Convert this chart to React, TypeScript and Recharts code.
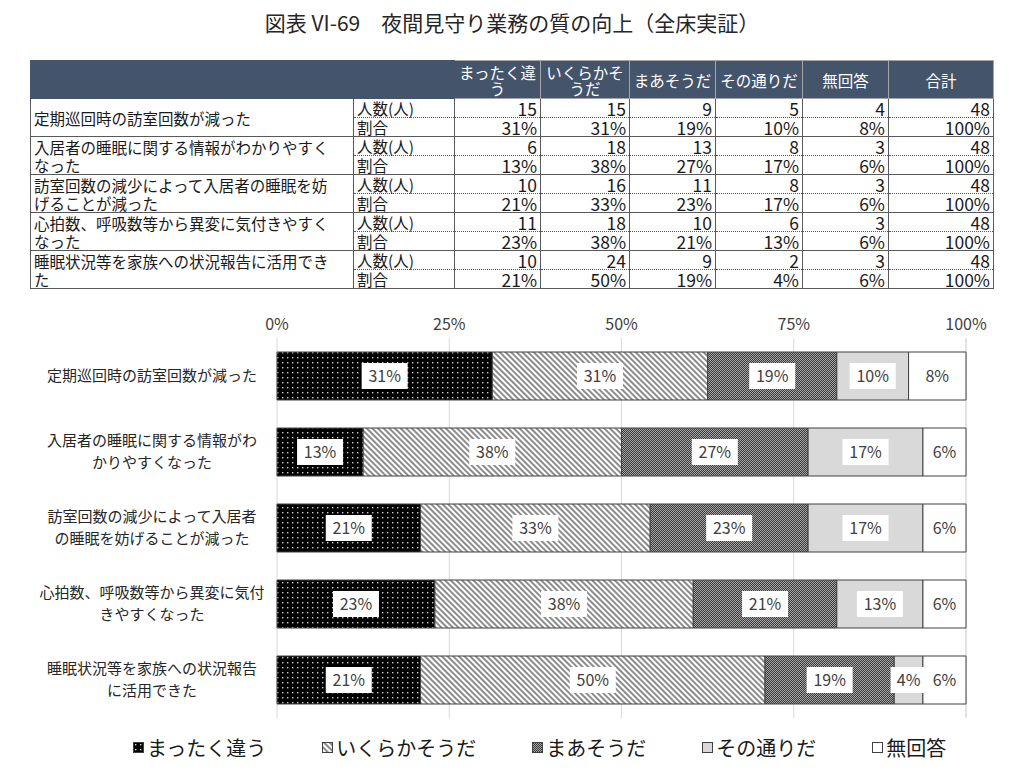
import React from 'react';
import { BarChart, Bar, XAxis, YAxis, CartesianGrid, LabelList } from 'recharts';

const FONT = '"Noto Sans CJK JP", "Noto Sans", sans-serif';

const title = '図表 VI-69　夜間見守り業務の質の向上（全床実証）';

const categories = [
  '定期巡回時の訪室回数が減った',
  '入居者の睡眠に関する情報がわかりやすくなった',
  '訪室回数の減少によって入居者の睡眠を妨げることが減った',
  '心拍数、呼吸数等から異変に気付きやすくなった',
  '睡眠状況等を家族への状況報告に活用できた',
];

// y軸ラベルの改行位置
const chartLabelLines = [
  ['定期巡回時の訪室回数が減った'],
  ['入居者の睡眠に関する情報がわ', 'かりやすくなった'],
  ['訪室回数の減少によって入居者', 'の睡眠を妨げることが減った'],
  ['心拍数、呼吸数等から異変に気付', 'きやすくなった'],
  ['睡眠状況等を家族への状況報告', 'に活用できた'],
];

const seriesNames = ['まったく違う', 'いくらかそうだ', 'まあそうだ', 'その通りだ', '無回答'];
const headerNames = ['まったく違う', 'いくらかそうだ', 'まあそうだ', 'その通りだ', '無回答', '合計'];

// 人数(人)
const countsZenzen = [15, 6, 10, 11, 10];
const countsIkuraka = [15, 18, 16, 18, 24];
const countsMaa = [9, 13, 11, 10, 9];
const countsSono = [5, 8, 8, 6, 2];
const countsMukaito = [4, 3, 3, 3, 3];
const totals = [48, 48, 48, 48, 48];

const seriesCounts = [countsZenzen, countsIkuraka, countsMaa, countsSono, countsMukaito];
const xTicks = [0, 25, 50, 75, 100];
const fills = ['url(#pDots)', 'url(#pHatch)', 'url(#pCheck)', '#d9d9d9', '#ffffff'];

const pctText = (c: number, t: number) => `${Math.round((c / t) * 100)}%`;

const chartData = categories.map((name, r) => {
  const row: any = { name };
  seriesCounts.forEach((arr, i) => {
    row[`s${i}`] = (arr[r] / totals[r]) * 100;
    row[`l${i}`] = pctText(arr[r], totals[r]);
  });
  return row;
});

const Patterns = () => (
  <svg width={0} height={0} style={{ position: 'absolute' }}>
    <defs>
      <pattern id="pDots" width={5} height={5} patternUnits="userSpaceOnUse">
        <rect width={5} height={5} fill="#000" />
        <rect x={2} y={2} width={1.4} height={1.4} fill="#cfcfcf" />
      </pattern>
      <pattern id="pHatch" width={4} height={4} patternUnits="userSpaceOnUse" patternTransform="rotate(-45)">
        <rect width={4} height={4} fill="#ffffff" />
        <rect width={2} height={4} fill="#8c8c8c" />
      </pattern>
      <pattern id="pCheck" width={2} height={2} patternUnits="userSpaceOnUse">
        <rect width={2} height={2} fill="#a6a6a6" />
        <rect x={0} y={0} width={1} height={1} fill="#3a3a3a" />
        <rect x={1} y={1} width={1} height={1} fill="#3a3a3a" />
      </pattern>
    </defs>
  </svg>
);

const CategoryTick = (props: any) => {
  const { y, payload } = props;
  const idx = categories.indexOf(payload.value);
  const lines = chartLabelLines[idx] || [payload.value];
  const offset = lines.length === 1 ? [5] : [-6, 16];
  return (
    <g>
      {lines.map((ln, k) => (
        <text key={k} x={152} y={y + offset[k]} textAnchor="middle" fontSize={15} fill="#262626" fontFamily={FONT}>
          {ln}
        </text>
      ))}
    </g>
  );
};

const makeLabel = (boxed: boolean) => (props: any) => {
  const { x, y, width, height, value } = props;
  const cx = x + width / 2;
  const cy = y + height / 2;
  const w = String(value).length * 10 + 16;
  return (
    <g>
      {boxed && <rect x={cx - w / 2} y={cy - 13} width={w} height={26} fill="#ffffff" />}
      <text x={cx} y={cy + 6} textAnchor="middle" fontSize={16} fill="#404040" fontFamily={FONT}>
        {value}
      </text>
    </g>
  );
};

const cellBorder = '1px solid #595959';
const dotBorder = '1px dotted #595959';

const DataTable = () => (
  <table
    style={{
      position: 'absolute', left: 30, top: 60, width: 963, borderCollapse: 'collapse',
      tableLayout: 'fixed', fontFamily: FONT, color: '#1a1a1a',
    }}
  >
    <colgroup>
      <col style={{ width: 323 }} />
      <col style={{ width: 101 }} />
      <col style={{ width: 86 }} />
      <col style={{ width: 89 }} />
      <col style={{ width: 86 }} />
      <col style={{ width: 87 }} />
      <col style={{ width: 86 }} />
      <col style={{ width: 105 }} />
    </colgroup>
    <thead>
      <tr style={{ height: 38, background: '#44546a', color: '#fff' }}>
        <th colSpan={2} style={{ border: '1px solid #44546a' }} />
        {headerNames.map((h) => (
          <th
            key={h}
            style={{
              border: '1px solid #a6a6a6', fontWeight: 'normal', fontSize: 15.5, lineHeight: '16px',
              padding: '0 2px', textAlign: 'center',
            }}
          >
            {h}
          </th>
        ))}
      </tr>
    </thead>
    <tbody>
      {categories.map((cat, r) => {
        const cnts = seriesCounts.map((a) => a[r]);
        return (
          <React.Fragment key={cat}>
            <tr style={{ height: 19 }}>
              <td rowSpan={2} style={{ border: cellBorder, padding: '0 3px', fontSize: 15.5, lineHeight: '18px', verticalAlign: 'middle' }}>
                <div style={{ width: 300 }}>{cat}</div>
              </td>
              <td style={{ borderLeft: cellBorder, borderRight: cellBorder, borderBottom: dotBorder, borderTop: cellBorder, fontSize: 15.5, lineHeight: '17px', padding: '0 3px' }}>
                人数(人)
              </td>
              {[...cnts, totals[r]].map((v, i) => (
                <td key={i} style={{ borderLeft: cellBorder, borderRight: cellBorder, borderBottom: dotBorder, borderTop: cellBorder, fontSize: 17.5, lineHeight: '17px', textAlign: 'right', padding: '0 3px' }}>
                  {v}
                </td>
              ))}
            </tr>
            <tr style={{ height: 19 }}>
              <td style={{ borderLeft: cellBorder, borderRight: cellBorder, borderBottom: cellBorder, fontSize: 15.5, lineHeight: '17px', padding: '0 3px' }}>
                割合
              </td>
              {[...cnts.map((c) => pctText(c, totals[r])), '100%'].map((v, i) => (
                <td key={i} style={{ borderLeft: cellBorder, borderRight: cellBorder, borderBottom: cellBorder, fontSize: 17.5, lineHeight: '17px', textAlign: 'right', padding: '0 3px' }}>
                  {v}
                </td>
              ))}
            </tr>
          </React.Fragment>
        );
      })}
    </tbody>
  </table>
);

const LegendBox = () => (
  <div
    style={{
      position: 'absolute', left: 133, top: 733, display: 'flex', gap: 56,
      fontFamily: FONT, fontSize: 20, color: '#1a1a1a', alignItems: 'center',
    }}
  >
    {seriesNames.map((n, i) => (
      <div key={n} style={{ display: 'flex', alignItems: 'center', gap: 3 }}>
        <svg width={11} height={11}>
          <rect x={0.5} y={0.5} width={10} height={10} fill={fills[i]} stroke="#404040" strokeWidth={1} />
        </svg>
        <span>{n}</span>
      </div>
    ))}
  </div>
);

export default function App() {
  return (
    <div style={{ position: 'absolute', left: 0, top: 0, width: 1024, height: 770, background: '#fff', fontFamily: FONT }}>
      <Patterns />
      <div style={{ position: 'absolute', top: 7, left: 0, width: 1024, textAlign: 'center', fontSize: 21, color: '#262626' }}>
        {title}
      </div>
      <DataTable />
      <div style={{ position: 'absolute', left: 0, top: 295 }}>
        <BarChart
          width={1024}
          height={423}
          data={chartData}
          layout="vertical"
          margin={{ top: 13, right: 58, left: 0, bottom: 0 }}
          barSize={48}
        >
          <CartesianGrid horizontal={false} stroke="#d9d9d9" />
          <XAxis
            type="number"
            orientation="top"
            domain={[0, 100]}
            ticks={xTicks}
            tickFormatter={(v: number) => `${v}%`}
            axisLine={false}
            tickLine={false}
            height={30}
            tick={{ fontSize: 16, fill: '#404040', fontFamily: FONT }}
          />
          <YAxis
            type="category"
            dataKey="name"
            width={277}
            axisLine={false}
            tickLine={false}
            tick={<CategoryTick />}
          />
          {seriesNames.map((n, i) => (
            <Bar
              key={n}
              dataKey={`s${i}`}
              name={n}
              stackId="a"
              fill={fills[i]}
              stroke="#404040"
              strokeWidth={1}
              isAnimationActive={false}
            >
              <LabelList dataKey={`l${i}`} content={makeLabel(i < 4)} />
            </Bar>
          ))}
        </BarChart>
      </div>
      <LegendBox />
    </div>
  );
}
